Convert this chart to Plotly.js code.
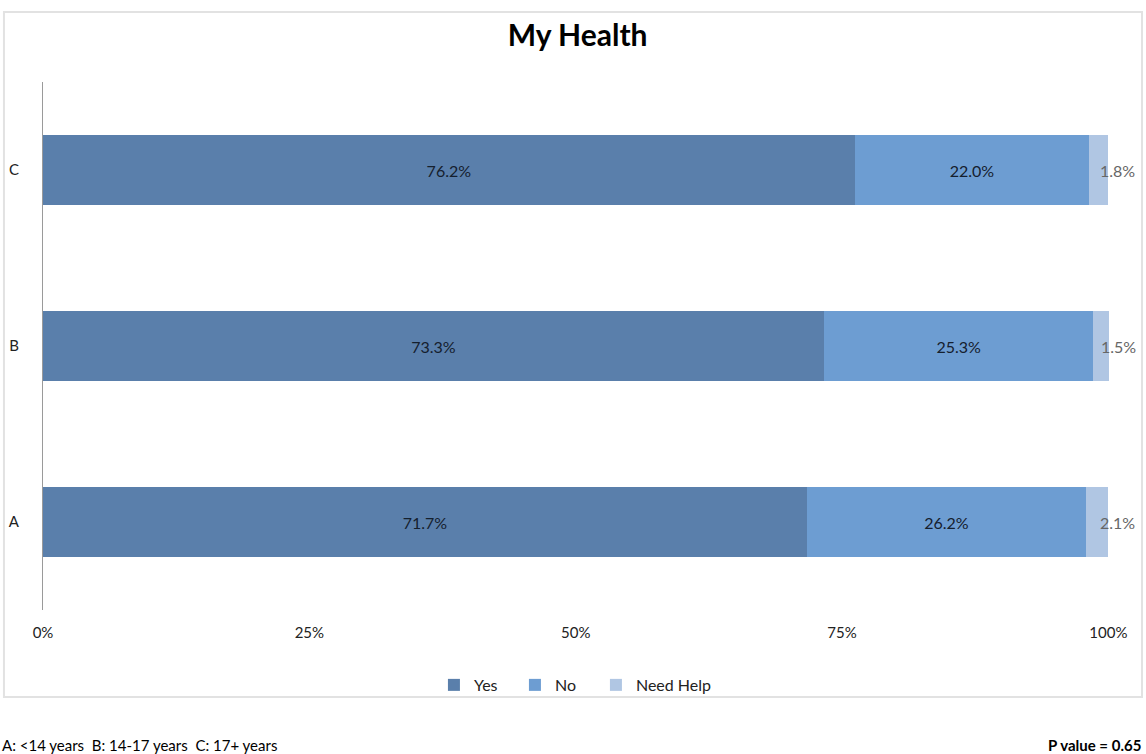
<!DOCTYPE html>
<html>
<head>
<meta charset="utf-8">
<script src="https://cdn.plot.ly/plotly-3.0.1.min.js"></script>
<style>
html,body{margin:0;padding:0;background:#fff;}
#chart{width:1146px;height:754px;}
</style>
</head>
<body>
<div id="chart"></div>
<script>
const categories = ['A', 'B', 'C'];
const seriesNames = ['Yes', 'No', 'Need Help'];
const yesValues = [71.7, 73.3, 76.2];
const noValues = [26.2, 25.3, 22.0];
const needHelpValues = [2.1, 1.5, 1.8];
const xTickVals = [0, 25, 50, 75, 100];
const xTickText = ['0%', '25%', '50%', '75%', '100%'];
const titleText = 'My Health';
const footnoteLeft = 'A: <14 years  B: 14-17 years  C: 17+ years';
const footnoteRight = '<b>P value = 0.65</b>';

const colors = ['#5a7fab', '#6d9dd2', '#b0c6e3'];
const fontFam = 'Lato, "Open Sans", sans-serif';
const fmt = v => v.toFixed(1) + '%';

const series = [yesValues, noValues, needHelpValues];
const traces = series.map((vals, i) => {
  const t = {
    type: 'bar',
    orientation: 'h',
    name: seriesNames[i],
    y: categories,
    x: vals,
    width: 0.4,
    marker: {color: colors[i], line: {width: 0}},
    text: i === 2 ? undefined : vals.map(fmt),
    textposition: i === 2 ? 'none' : 'inside',
    insidetextanchor: 'middle',
    constraintext: 'none',
    textfont: {family: fontFam, size: 16, color: '#15202e'},
    cliponaxis: false,
    hoverinfo: 'x+name'
  };
  if (i < 2) t.legendwidth = 36;
  return t;
});

// Need Help labels sit just past the end of each stacked bar
const nhLabels = categories.map((c, k) => ({
  x: yesValues[k] + noValues[k] + needHelpValues[k],
  y: c,
  xref: 'x', yref: 'y',
  text: fmt(needHelpValues[k]),
  xanchor: 'center', xshift: 9,
  yanchor: 'middle',
  showarrow: false,
  font: {family: fontFam, size: 16, color: '#666666'}
}));

const layout = {
  width: 1146,
  height: 754,
  margin: {l: 43, r: 36, t: 82, b: 144},
  paper_bgcolor: '#ffffff',
  plot_bgcolor: '#ffffff',
  barmode: 'stack',
  title: {
    text: '<b>' + titleText + '</b>',
    font: {family: fontFam, size: 30, color: '#000000'},
    x: 0.504, xanchor: 'center', y: 0.953, yanchor: 'middle'
  },
  xaxis: {
    range: [0, 100.15],
    tickmode: 'array',
    tickvals: xTickVals,
    ticktext: xTickText,
    showgrid: false,
    zeroline: false,
    showline: false,
    ticks: '',
    ticklabelstandoff: 12,
    tickfont: {family: fontFam, size: 15, color: '#222222'},
    fixedrange: true
  },
  yaxis: {
    type: 'category',
    categoryorder: 'array',
    categoryarray: categories,
    range: [-0.5, 2.5],
    showgrid: false,
    zeroline: false,
    showline: true,
    linecolor: '#9a9a9a',
    linewidth: 1,
    ticks: '',
    ticklabelstandoff: 20,
    tickfont: {family: fontFam, size: 15, color: '#222222'},
    fixedrange: true
  },
  showlegend: true,
  legend: {
    orientation: 'h',
    x: 0.499, xanchor: 'center',
    y: -0.142, yanchor: 'middle',
    bgcolor: 'rgba(0,0,0,0)',
    font: {family: fontFam, size: 16, color: '#222222'},
    traceorder: 'normal'
  },
  shapes: [{
    type: 'rect', xref: 'paper', yref: 'paper',
    x0: -0.0366, x1: 1.030, y0: -0.165, y1: 1.1326,
    line: {color: '#e2e2e2', width: 2},
    fillcolor: 'rgba(0,0,0,0)',
    layer: 'below'
  }],
  annotations: nhLabels.concat([
    {text: footnoteLeft, xref: 'paper', yref: 'paper', x: -0.0403, xanchor: 'left',
     y: -0.256, yanchor: 'middle', showarrow: false,
     font: {family: fontFam, size: 15, color: '#000000'}},
    {text: footnoteRight, xref: 'paper', yref: 'paper', x: 1.0305, xanchor: 'right',
     y: -0.256, yanchor: 'middle', showarrow: false,
     font: {family: fontFam, size: 15, color: '#000000'}}
  ])
};

Plotly.newPlot('chart', traces, layout, {displayModeBar: false, responsive: false});
</script>
</body>
</html>
